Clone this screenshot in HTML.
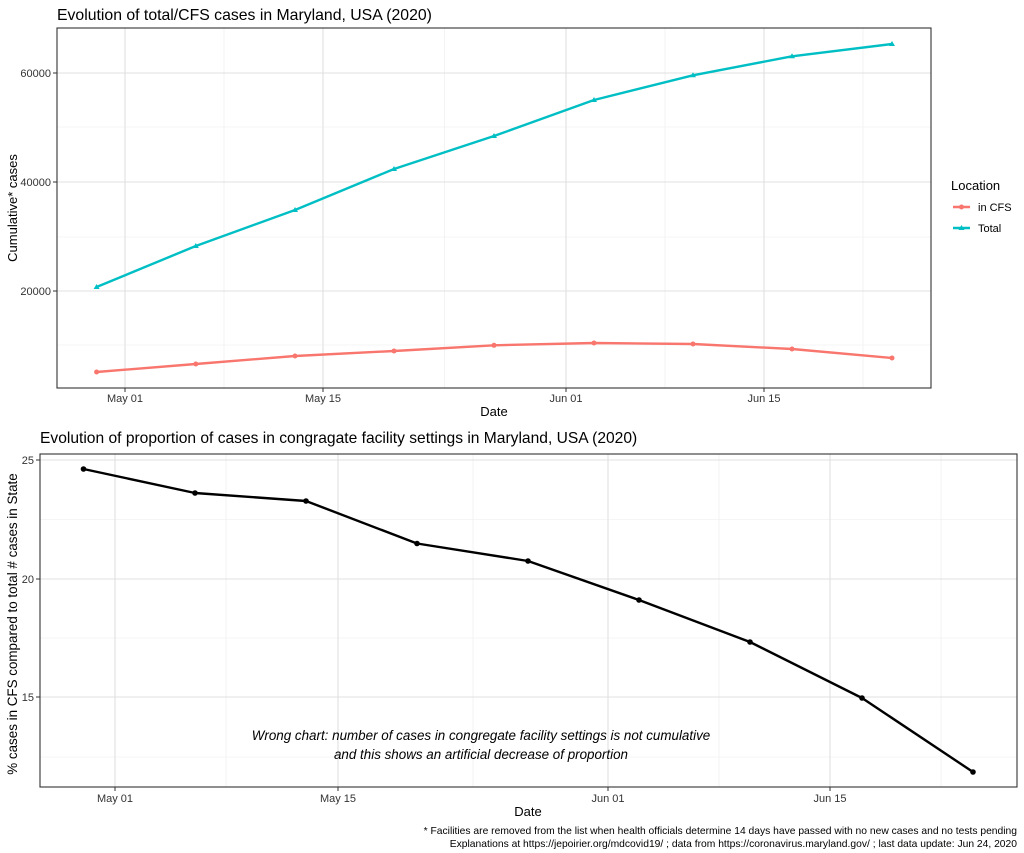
<!DOCTYPE html>
<html><head><meta charset="utf-8"><style>
html,body{margin:0;padding:0;background:#fff}
svg{display:block;font-family:"Liberation Sans",Arial,sans-serif}
</style></head><body>
<svg width="1024" height="853" viewBox="0 0 1024 853" xmlns="http://www.w3.org/2000/svg">
<rect width="1024" height="853" fill="#fff"/>
<!-- TOP PANEL -->
<text x="57" y="20" font-size="15.8" fill="#000">Evolution of total/CFS cases in Maryland, USA (2020)</text>
<g stroke="#ebebeb" stroke-width="0.6">
<line x1="57" x2="931" y1="127" y2="127"/><line x1="57" x2="931" y1="237" y2="237"/><line x1="57" x2="931" y1="345" y2="345"/>
<line x1="224" x2="224" y1="28" y2="388"/><line x1="444.5" x2="444.5" y1="28" y2="388"/><line x1="665" x2="665" y1="28" y2="388"/><line x1="863" x2="863" y1="28" y2="388"/>
</g>
<g stroke="#e0e0e0" stroke-width="1.1">
<line x1="57" x2="931" y1="73" y2="73"/><line x1="57" x2="931" y1="182" y2="182"/><line x1="57" x2="931" y1="291" y2="291"/>
<line x1="125" x2="125" y1="28" y2="388"/><line x1="323" x2="323" y1="28" y2="388"/><line x1="566" x2="566" y1="28" y2="388"/><line x1="764" x2="764" y1="28" y2="388"/>
</g>
<polyline fill="none" stroke="#00BFC4" stroke-width="2.4" stroke-linejoin="round" points="96.6,287 195.8,246 295,210 394,169 494,136 594,100 693,75.3 792,56.3 892,44"/>
<g fill="#00BFC4">
<path d="M96.6,284 l3,5 h-6z"/><path d="M195.8,243 l3,5 h-6z"/><path d="M295,207 l3,5 h-6z"/><path d="M394,166 l3,5 h-6z"/><path d="M494,133 l3,5 h-6z"/><path d="M594,97 l3,5 h-6z"/><path d="M693,72.3 l3,5 h-6z"/><path d="M792,53.3 l3,5 h-6z"/><path d="M892,41 l3,5 h-6z"/>
</g>
<polyline fill="none" stroke="#F8766D" stroke-width="2.4" stroke-linejoin="round" points="96.6,372 195.8,364 295,356 394,351 494,345.3 594,343 693,344 792,349 892,358"/>
<g fill="#F8766D">
<circle cx="96.6" cy="372" r="2.5"/><circle cx="195.8" cy="364" r="2.5"/><circle cx="295" cy="356" r="2.5"/><circle cx="394" cy="351" r="2.5"/><circle cx="494" cy="345.3" r="2.5"/><circle cx="594" cy="343" r="2.5"/><circle cx="693" cy="344" r="2.5"/><circle cx="792" cy="349" r="2.5"/><circle cx="892" cy="358" r="2.5"/>
</g>
<rect x="57" y="28" width="874" height="360" fill="none" stroke="#333" stroke-width="1.1"/>
<g stroke="#333" stroke-width="1">
<line x1="53" x2="57" y1="73" y2="73"/><line x1="53" x2="57" y1="182" y2="182"/><line x1="53" x2="57" y1="291" y2="291"/>
<line x1="125" x2="125" y1="388" y2="392"/><line x1="323" x2="323" y1="388" y2="392"/><line x1="566" x2="566" y1="388" y2="392"/><line x1="764" x2="764" y1="388" y2="392"/>
</g>
<g font-size="11" fill="#333" text-anchor="end">
<text x="51" y="77">60000</text><text x="51" y="186">40000</text><text x="51" y="295">20000</text>
</g>
<g font-size="11" fill="#333" text-anchor="middle">
<text x="125" y="402">May 01</text><text x="323" y="402">May 15</text><text x="566" y="402">Jun 01</text><text x="764" y="402">Jun 15</text>
</g>
<text x="494" y="416" font-size="13" text-anchor="middle" fill="#000">Date</text>
<text transform="translate(17,208) rotate(-90)" font-size="13" text-anchor="middle" fill="#000">Cumulative* cases</text>
<text x="951" y="190" font-size="13" fill="#000">Location</text>
<line x1="953" x2="970" y1="207" y2="207" stroke="#F8766D" stroke-width="2.4"/><circle cx="961.5" cy="207" r="2.5" fill="#F8766D"/>
<text x="978" y="211" font-size="11" fill="#000">in CFS</text>
<line x1="953" x2="970" y1="228" y2="228" stroke="#00BFC4" stroke-width="2.4"/><path d="M961.5,225 l3,5 h-6z" fill="#00BFC4"/>
<text x="978" y="232" font-size="11" fill="#000">Total</text>

<!-- BOTTOM PANEL -->
<text x="40" y="443" font-size="15.6" fill="#000">Evolution of proportion of cases in congragate facility settings in Maryland, USA (2020)</text>
<g stroke="#ebebeb" stroke-width="0.6">
<line x1="40" x2="1017" y1="519.5" y2="519.5"/><line x1="40" x2="1017" y1="638" y2="638"/><line x1="40" x2="1017" y1="757" y2="757"/>
<line x1="226" x2="226" y1="454" y2="787"/><line x1="473" x2="473" y1="454" y2="787"/><line x1="719" x2="719" y1="454" y2="787"/><line x1="941" x2="941" y1="454" y2="787"/>
</g>
<g stroke="#e0e0e0" stroke-width="1.1">
<line x1="40" x2="1017" y1="460" y2="460"/><line x1="40" x2="1017" y1="579" y2="579"/><line x1="40" x2="1017" y1="697" y2="697"/>
<line x1="115" x2="115" y1="454" y2="787"/><line x1="338" x2="338" y1="454" y2="787"/><line x1="608" x2="608" y1="454" y2="787"/><line x1="830" x2="830" y1="454" y2="787"/>
</g>
<polyline fill="none" stroke="#000" stroke-width="2.4" stroke-linejoin="round" points="83.5,469 195,493 306,501 417,543.5 528,561 639,600 750,642 862,698 973,772"/>
<g fill="#000">
<circle cx="83.5" cy="469" r="2.8"/><circle cx="195" cy="493" r="2.8"/><circle cx="306" cy="501" r="2.8"/><circle cx="417" cy="543.5" r="2.8"/><circle cx="528" cy="561" r="2.8"/><circle cx="639" cy="600" r="2.8"/><circle cx="750" cy="642" r="2.8"/><circle cx="862" cy="698" r="2.8"/><circle cx="973" cy="772" r="2.8"/>
</g>
<rect x="40" y="454" width="977" height="333" fill="none" stroke="#333" stroke-width="1.1"/>
<g stroke="#333" stroke-width="1">
<line x1="36" x2="40" y1="460" y2="460"/><line x1="36" x2="40" y1="579" y2="579"/><line x1="36" x2="40" y1="697" y2="697"/>
<line x1="115" x2="115" y1="787" y2="791"/><line x1="338" x2="338" y1="787" y2="791"/><line x1="608" x2="608" y1="787" y2="791"/><line x1="830" x2="830" y1="787" y2="791"/>
</g>
<g font-size="11" fill="#333" text-anchor="end">
<text x="34" y="464">25</text><text x="34" y="583">20</text><text x="34" y="701">15</text>
</g>
<g font-size="11" fill="#333" text-anchor="middle">
<text x="115" y="802">May 01</text><text x="338" y="802">May 15</text><text x="608" y="802">Jun 01</text><text x="830" y="802">Jun 15</text>
</g>
<text x="528" y="816" font-size="13" text-anchor="middle" fill="#000">Date</text>
<text transform="translate(17,624) rotate(-90)" font-size="13.4" text-anchor="middle" fill="#000">% cases in CFS compared to total # cases in State</text>
<g font-size="13.4" font-style="italic" text-anchor="middle" fill="#000">
<text x="481" y="740">Wrong chart: number of cases in congregate facility settings is not cumulative</text>
<text x="481" y="759">and this shows an artificial decrease of proportion</text>
</g>
<g font-size="10.3" text-anchor="end" fill="#000">
<text x="1017" y="834">* Facilities are removed from the list when health officials determine 14 days have passed with no new cases and no tests pending</text>
<text x="1017" y="847">Explanations at https://jepoirier.org/mdcovid19/ ; data from https://coronavirus.maryland.gov/ ; last data update: Jun 24, 2020</text>
</g>
</svg>
</body></html>
